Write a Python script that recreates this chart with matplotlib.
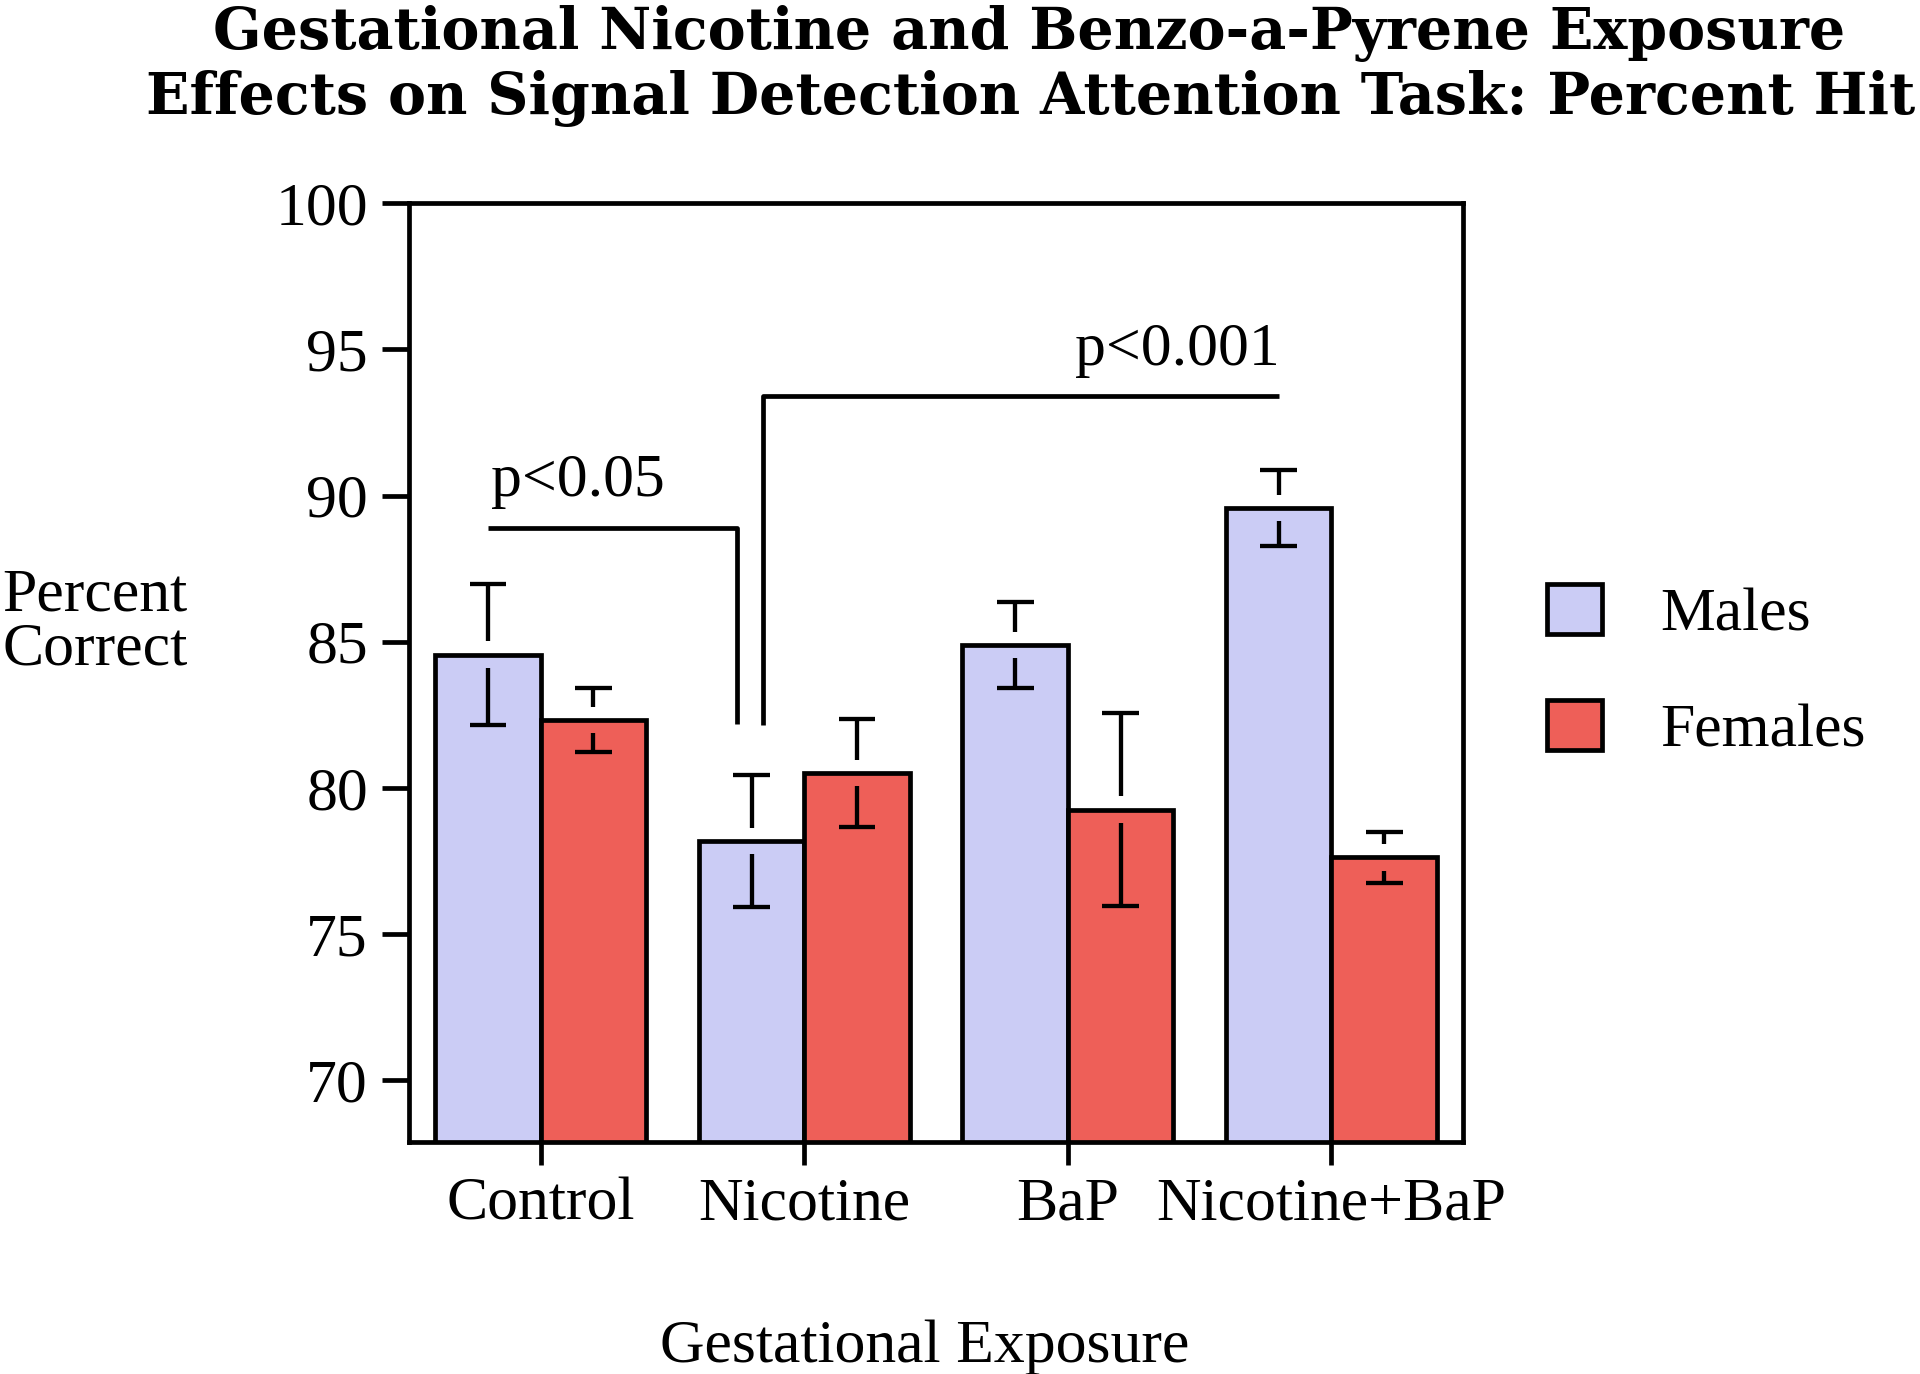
import matplotlib
matplotlib.use("Agg")
import matplotlib.pyplot as plt
from matplotlib.patches import Patch
import numpy as np

# 数据
GROUPS = ["Control", "Nicotine", "BaP", "Nicotine+BaP"]
MALES_MEAN = [84.56, 78.18, 84.88, 89.57]
MALES_SEM = [2.41, 2.27, 1.47, 1.30]
FEMALES_MEAN = [82.32, 80.52, 79.26, 77.62]
FEMALES_SEM = [1.09, 1.85, 3.31, 0.88]

YTICKS = [70, 75, 80, 85, 90, 95, 100]

# 显著性标注
SIG_LABELS = ["p<0.05", "p<0.001"]
SIG_X = [[-0.2, 0.744, 0.744], [0.842, 0.842, 2.8]]
SIG_Y = [[88.9, 88.9, 82.2], [82.15, 93.42, 93.42]]
SIG_TEXT_X = [0.14, 2.414]
SIG_TEXT_Y = [90.0, 94.47]

MALE_COLOR = "#CBCCF5"
FEMALE_COLOR = "#EE5F58"

SERIF = ["Liberation Serif", "DejaVu Serif"]
FS = 44.5
LW = 3.4
ELW = 3.1
BAR_W = 0.4
GAP = 0.45      # 误差线在柱顶附近断开
CAP = 0.07      # 误差线帽半宽（数据单位）


def draw_errbar(ax, x, mean, sem):
    # 上半段
    ax.vlines(x, mean + GAP, mean + sem, color="black", lw=ELW, zorder=4)
    ax.hlines(mean + sem, x - CAP, x + CAP, color="black", lw=ELW, zorder=4)
    # 下半段（画在柱子内部）
    ax.vlines(x, mean - sem, mean - GAP, color="black", lw=ELW, zorder=4)
    ax.hlines(mean - sem, x - CAP, x + CAP, color="black", lw=ELW, zorder=4)


def main():
    plt.rcParams["font.family"] = SERIF
    fig = plt.figure(figsize=(19.2, 13.74), dpi=100)
    ax = fig.add_axes([0.2130, 0.1685, 0.5491, 0.6836])

    x = np.arange(len(GROUPS))
    xm = x - BAR_W / 2
    xf = x + BAR_W / 2
    ax.bar(xm, MALES_MEAN, width=BAR_W, color=MALE_COLOR, edgecolor="black", lw=LW, zorder=2)
    ax.bar(xf, FEMALES_MEAN, width=BAR_W, color=FEMALE_COLOR, edgecolor="black", lw=LW, zorder=2)

    for i in range(len(GROUPS)):
        draw_errbar(ax, xm[i], MALES_MEAN[i], MALES_SEM[i])
        draw_errbar(ax, xf[i], FEMALES_MEAN[i], FEMALES_SEM[i])

    for sx, sy, lab, tx, ty in zip(SIG_X, SIG_Y, SIG_LABELS, SIG_TEXT_X, SIG_TEXT_Y):
        ax.plot(sx, sy, color="black", lw=LW, solid_capstyle="butt", zorder=3)
        ax.text(tx, ty, lab, ha="center", va="baseline", fontsize=FS)

    ax.set_xlim(-0.5, 3.5)
    ax.set_ylim(67.87, 100)
    ax.set_yticks(YTICKS)
    ax.set_xticks(x)
    ax.set_xticklabels(GROUPS)

    for s in ax.spines.values():
        s.set_linewidth(LW)
    ax.tick_params(axis="y", direction="out", length=19.5, width=LW, pad=10, labelsize=FS)
    ax.tick_params(axis="x", direction="out", length=16.5, width=LW, pad=8, labelsize=FS)

    # y 轴标题（水平放置在左侧）
    fig.text(0.0013, 0.547, "Percent\nCorrect", ha="left", va="center",
             fontsize=FS, linespacing=0.97)
    # x 轴标题
    fig.text(0.4815, 0.0087, "Gestational Exposure", ha="center", va="baseline", fontsize=FS)

    # 标题
    title_font = ["DejaVu Serif"]
    fig.text(0.536, 0.964, "Gestational Nicotine and Benzo-a-Pyrene Exposure",
             ha="center", va="baseline", fontsize=41, fontweight="bold", family=title_font)
    fig.text(0.537, 0.917, "Effects on Signal Detection Attention Task: Percent Hit",
             ha="center", va="baseline", fontsize=41, fontweight="bold", family=title_font)

    handles = [
        Patch(facecolor=MALE_COLOR, edgecolor="black", lw=LW, label="Males"),
        Patch(facecolor=FEMALE_COLOR, edgecolor="black", lw=LW, label="Females"),
    ]
    fig.legend(handles=handles, loc="center left", bbox_to_anchor=(0.8056, 0.511),
               frameon=False, fontsize=FS, handlelength=0.9, handleheight=0.85,
               handletextpad=0.93, labelspacing=0.92, borderpad=0, borderaxespad=0)

    fig.savefig("out.png", dpi=100)
    plt.close(fig)


if __name__ == "__main__":
    main()
